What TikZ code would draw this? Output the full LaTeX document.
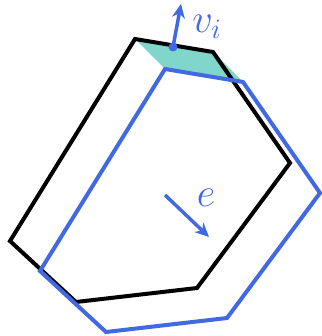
\documentclass[tikz,border=0pt]{standalone}
\usetikzlibrary{arrows.meta}
\definecolor{rblue}{RGB}{65,105,225}
\definecolor{tealf}{RGB}{128,214,202}
\begin{document}
\begin{tikzpicture}[x=1pt,y=-1pt,
  edgeblack/.style={line width=4pt,line join=miter,black},
  edgeblue/.style={line width=4pt,line join=miter,rblue},
  vecarrow/.style={line width=3.5pt,rblue,-{Stealth[length=14pt,width=13pt]}},
  lbl/.style={text=rblue,font=\huge,scale=1.95,inner sep=0pt}]
\useasboundingbox (0,0) rectangle (321,336);
% black polygon
\coordinate (a1) at (135,39);
\coordinate (a2) at (213,52);
\coordinate (a3) at (290,163);
\coordinate (a4) at (197,288);
\coordinate (a5) at (76,302);
\coordinate (a6) at (10,241);
% blue polygon (shifted by e)
\coordinate (b1) at (165,69);
\coordinate (b2) at (243,82);
\coordinate (b3) at (320,193);
\coordinate (b4) at (227,318);
\coordinate (b5) at (106,332);
\coordinate (b6) at (40,271);
\fill[tealf] (a1) -- (a2) -- (b2) -- (b1) -- cycle;
\draw[edgeblack] (a1) -- (a2) -- (a3) -- (a4) -- (a5) -- (a6) -- cycle;
\draw[edgeblue] (b1) -- (b2) -- (b3) -- (b4) -- (b5) -- (b6) -- cycle;
% v_i
\coordinate (p) at (173,47);
\coordinate (ptip) at (181,4);
\draw[vecarrow] (p) -- (ptip);
\fill[rblue] (p) circle (4.5pt);
\node[lbl] (vi) at (207,27) {$v_i$};
% e
\coordinate (e0) at (165,195);
\coordinate (e1) at (209,237);
\draw[vecarrow] (e0) -- (e1);
\node[lbl] (el) at (206,198) {$e$};
\end{tikzpicture}
\end{document}
